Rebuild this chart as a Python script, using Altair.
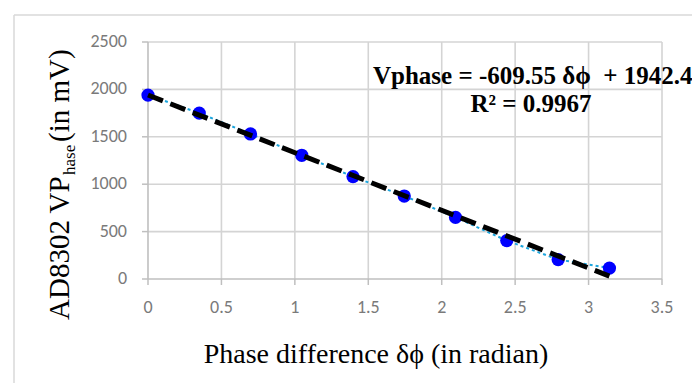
import altair as alt
import pandas as pd

# ---- data ----
phase = [0.0, 0.349, 0.698, 1.047, 1.396, 1.745, 2.094, 2.443, 2.793, 3.142]
vphase = [1940, 1750, 1530, 1305, 1080, 875, 650, 405, 205, 115]
x_ticks = [0, 0.5, 1, 1.5, 2, 2.5, 3, 3.5]
x_tick_labels = ["0", "0.5", "1", "1.5", "2", "2.5", "3", "3.5"]
y_ticks = [0, 500, 1000, 1500, 2000, 2500]
y_tick_labels = ["0", "500", "1000", "1500", "2000", "2500"]
x_grid = [0.5, 1, 1.5, 2, 2.5, 3, 3.5]
y_grid = [500, 1000, 1500, 2000, 2500]
eq_line1 = ["Vphase = -609.55 δϕ \u00a0+ 1942.4"]
eq_line2 = ["R² = 0.9967"]
y_title_main = ["AD8302 VP"]
y_title_sub = ["hase"]
y_title_end = ["(in mV)"]
x_title = ["Phase difference δϕ (in radian)"]

df = pd.DataFrame({"phase": phase, "vphase": vphase})
xt = pd.DataFrame({"xv": x_ticks, "xl": x_tick_labels})
yt = pd.DataFrame({"yv": y_ticks, "yl": y_tick_labels})
xg = pd.DataFrame({"gx": x_grid})
yg = pd.DataFrame({"gy": y_grid})

SERIF = "Liberation Serif"
TICKFONT = "Carlito, Lato"
GRID = "#d4d4d4"
AXISC = "#bfbfbf"
LABC = "#7a7a7a"
W, H = 514, 237

xs = alt.Scale(domain=[0, 3.5], nice=False, zero=False)
ys = alt.Scale(domain=[0, 2500], nice=False)

# grid lines (from grid arrays, through the scales)
vgrid = alt.Chart(xg).mark_rule(color=GRID, strokeWidth=1.6).encode(
    x=alt.X("gx:Q", scale=xs, axis=None), y=alt.value(0), y2=alt.value(H)
)
hgrid = alt.Chart(yg).mark_rule(color=GRID, strokeWidth=1.6).encode(
    y=alt.Y("gy:Q", scale=ys, axis=None), x=alt.value(0), x2=alt.value(W)
)
# axis lines, ticks and labels
one = pd.DataFrame({"a": [0]})
xdomain = alt.Chart(one).mark_rule(color=AXISC, strokeWidth=1.6).encode(
    x=alt.value(0), x2=alt.value(W), y=alt.value(H)
)
ydomain = alt.Chart(one).mark_rule(color=AXISC, strokeWidth=1.6).encode(
    x=alt.value(0), y=alt.value(0), y2=alt.value(H)
)
xtick = alt.Chart(xt).mark_rule(color=AXISC, strokeWidth=1.5).encode(
    x=alt.X("xv:Q", scale=xs, axis=None), y=alt.value(H), y2=alt.value(H + 6)
)
ytick = alt.Chart(yt).mark_rule(color=AXISC, strokeWidth=1.5).encode(
    y=alt.Y("yv:Q", scale=ys, axis=None), x=alt.value(-6), x2=alt.value(0)
)
xlab = alt.Chart(xt).mark_text(
    font=TICKFONT, fontSize=18, color=LABC, align="center", baseline="middle"
).encode(x=alt.X("xv:Q", scale=xs, axis=None), y=alt.value(H + 29), text="xl:N")
ylab = alt.Chart(yt).mark_text(
    font=TICKFONT, fontSize=18, color=LABC, align="right", baseline="middle"
).encode(y=alt.Y("yv:Q", scale=ys, axis=None), x=alt.value(-21), text="yl:N")

base = alt.Chart(df)
x_enc = alt.X("phase:Q", scale=xs, axis=None)
y_enc = alt.Y("vphase:Q", scale=ys, axis=None)

conn = base.mark_line(color="#1ca5dd", strokeWidth=2, strokeDash=[3, 3]).encode(x=x_enc, y=y_enc)
pts = base.mark_circle(color="#0000ff", opacity=1, size=175).encode(x=x_enc, y=y_enc)
trend = (
    base.transform_regression("phase", "vphase", method="linear")
    .mark_line(color="black", strokeWidth=5, strokeDash=[16, 8])
    .encode(x=x_enc, y=y_enc)
)

border_top = alt.Chart(one).mark_rule(color="#d9d9d9", strokeWidth=1.5).encode(
    x=alt.value(-134), x2=alt.value(700), y=alt.value(-27)
)
border_left = alt.Chart(one).mark_rule(color="#d9d9d9", strokeWidth=1.5).encode(
    x=alt.value(-134), y=alt.value(-27), y2=alt.value(400)
)

eq1 = alt.Chart(pd.DataFrame({"t": eq_line1})).mark_text(
    font=SERIF, fontSize=25, fontWeight="bold", align="left", baseline="alphabetic", color="black"
).encode(text="t:N", x=alt.value(225), y=alt.value(42))
eq2 = alt.Chart(pd.DataFrame({"t": eq_line2})).mark_text(
    font=SERIF, fontSize=25, fontWeight="bold", align="center", baseline="alphabetic", color="black"
).encode(text="t:N", x=alt.value(383), y=alt.value(70))

xtitle = alt.Chart(pd.DataFrame({"t": x_title})).mark_text(
    font=SERIF, fontSize=28, align="center", baseline="alphabetic", color="black"
).encode(text="t:N", x=alt.value(228), y=alt.value(H + 84))

yt1 = alt.Chart(pd.DataFrame({"t": y_title_main})).mark_text(
    font=SERIF, fontSize=29, angle=270, align="left", baseline="alphabetic", color="black"
).encode(text="t:N", x=alt.value(-79), y=alt.value(278))
yt2 = alt.Chart(pd.DataFrame({"t": y_title_sub})).mark_text(
    font=SERIF, fontSize=17, angle=270, align="left", baseline="alphabetic", color="black"
).encode(text="t:N", x=alt.value(-73), y=alt.value(133))
yt3 = alt.Chart(pd.DataFrame({"t": y_title_end})).mark_text(
    font=SERIF, fontSize=29, angle=270, align="left", baseline="alphabetic", color="black"
).encode(text="t:N", x=alt.value(-79), y=alt.value(100))

chart = (
    alt.layer(
        border_top, border_left, vgrid, hgrid, xdomain, ydomain, xtick, ytick, xlab, ylab,
        conn, pts, trend, eq1, eq2, xtitle, yt1, yt2, yt3,
    )
    .properties(
        width=W, height=H,
        autosize=alt.AutoSizeParams(type="none"),
        padding={"left": 148, "top": 42, "right": 30, "bottom": 104},
        background="white",
    )
    .configure_view(stroke=None)
)

chart.save("out.html", embed_options={"renderer": "svg", "actions": False})
